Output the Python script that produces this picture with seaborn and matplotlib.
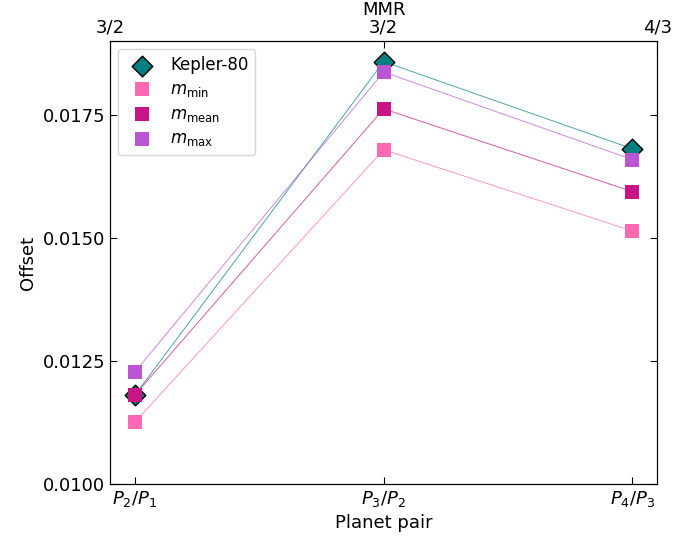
import matplotlib
matplotlib.use("Agg")
import matplotlib.pyplot as plt
import seaborn as sns
import numpy as np
import pandas as pd
from matplotlib.ticker import FormatStrFormatter

pairs = [r"$P_2/P_1$", r"$P_3/P_2$", r"$P_4/P_3$"]
mmr_labels = ["3/2", "3/2", "4/3"]
kepler80 = [0.01181, 0.01858, 0.01681]
m_min = [0.01126, 0.01679, 0.01514]
m_mean = [0.01181, 0.01762, 0.01594]
m_max = [0.01228, 0.01837, 0.01659]

series = [
    ("Kepler-80", kepler80, "#008080", "D", "black"),
    (r"$m_{\rm min}$", m_min, "#FF69B4", "s", "none"),
    (r"$m_{\rm mean}$", m_mean, "#C71585", "s", "none"),
    (r"$m_{\rm max}$", m_max, "#BA55D3", "s", "none"),
]

fig = plt.figure(figsize=(6.97, 5.37), dpi=100)
ax = fig.add_axes([0.158, 0.0987, 0.785, 0.825])
x = np.arange(len(pairs))

for label, vals, color, marker, ec in series:
    df = pd.DataFrame({"x": x, "y": vals})
    sns.lineplot(data=df, x="x", y="y", color=color, lw=0.7, alpha=0.7, ax=ax,
                 legend=False, zorder=2)
for label, vals, color, marker, ec in series:
    df = pd.DataFrame({"x": x, "y": vals})
    sns.scatterplot(data=df, x="x", y="y", color=color, marker=marker, s=110,
                    edgecolor=(color if ec == "none" else ec),
                    linewidth=1.0 if ec != "none" else 0, label=label, ax=ax, zorder=3)

ax.set_xlim(-0.1, 2.1)
ax.set_ylim(0.010, 0.019)
ax.set_xticks(x)
ax.set_xticklabels(pairs)
ax.set_yticks([0.0100, 0.0125, 0.0150, 0.0175])
ax.yaxis.set_major_formatter(FormatStrFormatter("%.4f"))
ax.set_xlabel("Planet pair", fontsize=13)
ax.set_ylabel("Offset", fontsize=13)
ax.tick_params(direction="in", length=5, labelsize=13, top=True, right=True)
ax.legend(loc="upper left", fontsize=12, handletextpad=0.7, borderpad=0.4,
          labelspacing=0.35)

ax2 = ax.twiny()
ax2.set_xticks([0, 1, 2])
ax2.set_xticklabels(mmr_labels)
ax2.set_xlabel("MMR", fontsize=13, labelpad=2)
ax2.tick_params(direction="in", length=5, labelsize=13)

fig.savefig("out.png", dpi=100)
